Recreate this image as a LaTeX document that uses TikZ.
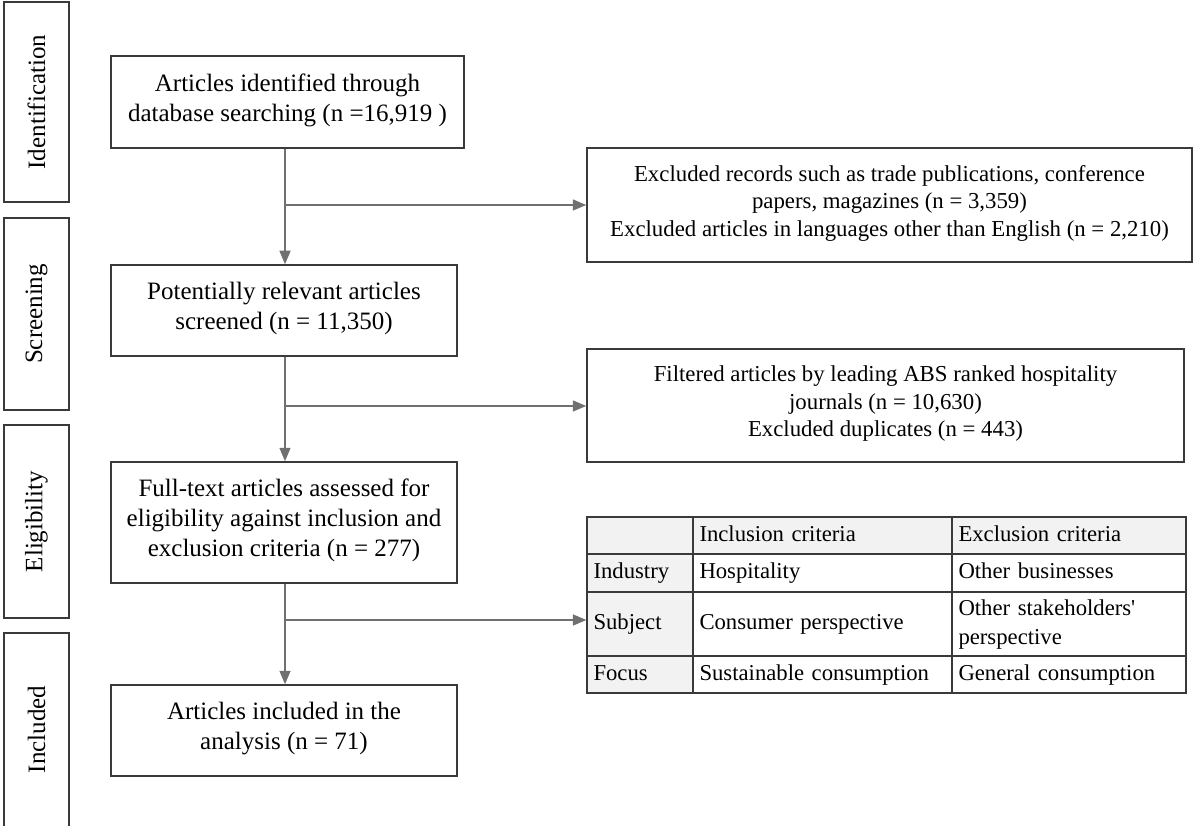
\documentclass[tikz,border=0pt]{standalone}
\usepackage{fontspec}
\setmainfont{Liberation Serif}[Ligatures=TeXOff]
\usetikzlibrary{arrows.meta}
\definecolor{boxline}{HTML}{3A3A3A}
\definecolor{arrowline}{HTML}{707070}
\definecolor{hdrfill}{HTML}{F2F2F2}
\begin{document}
\begin{tikzpicture}[x=1pt,y=-1pt,
  box/.style={draw=boxline, line width=1.5pt, inner sep=0pt, align=center,
    font=\fontsize{25}{30}\selectfont, execute at begin node=\strut},
  rbox/.style={draw=boxline, line width=1.5pt, inner sep=0pt, align=center,
    font=\fontsize{22.8}{27.5}\selectfont, execute at begin node=\strut},
  side/.style={draw=boxline, line width=1.5pt, inner sep=0pt,
    minimum width=65pt, font=\fontsize{25}{30}\selectfont},
  cell/.style={draw=boxline, line width=1.2pt, inner xsep=6.5pt, inner ysep=0pt,
    align=left, font=\fontsize{22.7}{29}\selectfont,
    execute at begin node=\strut, execute at end node=\strut},
  hcell/.style={cell, fill=hdrfill},
  conn/.style={draw=arrowline, line width=1.5pt},
  arr/.style={conn, -{Triangle[length=13.5pt,width=11pt]}}]
\useasboundingbox (0,0) rectangle (1194,826);
\begin{scope}
\clip (0,0) rectangle (1194,826);
% side labels
\node[side, minimum height=200pt] (sid) at (36.5,102) {\rotatebox{90}{Identification}};
\node[side, minimum height=192pt] (sscr) at (36.5,314) {\rotatebox{90}{Screening}};
\node[side, minimum height=193pt] (selg) at (36.5,521.5) {\rotatebox{90}{Eligibility}};
\node[side, minimum height=207pt] (sinc) at (36.5,736.5) {};
\node[font=\fontsize{25}{30}\selectfont] (sinctext) at (36.5,729.5) {\rotatebox{90}{Included}};
\end{scope}
% main boxes
\node[box, minimum width=353pt, minimum height=92pt] (b1) at (287.5,102)
  {Articles identified through\\database searching (n =16,919 )};
\node[box, minimum width=346pt, minimum height=91pt] (b2) at (284,310.5)
  {Potentially relevant articles\\screened (n = 11,350)};
\node[box, minimum width=346pt, minimum height=121pt] (b3) at (284,522.5)
  {Full-text articles assessed for\\eligibility against inclusion and\\exclusion criteria (n = 277)};
\node[box, minimum width=346pt, minimum height=91pt] (b4) at (284,730.5)
  {Articles included in the\\analysis (n = 71)};
% right boxes
\node[rbox, minimum width=605pt, minimum height=114pt] (r1) at (889.5,205)
  {Excluded records such as trade publications, conference\\papers, magazines (n = 3,359)\\Excluded articles in languages other than English (n = 2,210)};
\node[rbox, minimum width=597pt, minimum height=113pt] (r2) at (885.5,405.5)
  {Filtered articles by leading ABS ranked hospitality\\journals (n = 10,630)\\Excluded duplicates (n = 443)};
% table
\node[hcell, text width=93pt, minimum height=37pt] (t00) at (640,535.5) {};
\node[hcell, text width=246pt, minimum height=37pt] (t01) at (822.5,535.5) {Inclusion criteria};
\node[hcell, text width=221pt, minimum height=37pt] (t02) at (1069,535.5) {Exclusion criteria};
\node[hcell, text width=93pt, minimum height=38pt] (t10) at (640,573) {Industry};
\node[cell, text width=246pt, minimum height=38pt] (t11) at (822.5,573) {Hospitality};
\node[cell, text width=221pt, minimum height=38pt] (t12) at (1069,573) {Other businesses};
\node[hcell, text width=93pt, minimum height=64pt] (t20) at (640,624) {Subject};
\node[cell, text width=246pt, minimum height=64pt] (t21) at (822.5,624) {Consumer perspective};
\node[cell, text width=221pt, minimum height=64pt] (t22) at (1069,624) {Other stakeholders'\\perspective};
\node[hcell, text width=93pt, minimum height=37pt] (t30) at (640,674.5) {Focus};
\node[cell, text width=246pt, minimum height=37pt] (t31) at (822.5,674.5) {Sustainable consumption};
\node[cell, text width=221pt, minimum height=37pt] (t32) at (1069,674.5) {General consumption};
% connectors
\coordinate (j1) at (285,205);
\coordinate (j2) at (285,406);
\coordinate (j3) at (285,620);
\draw[conn] (b1.south -| j1) -- (j1);
\draw[arr] (j1) -- (b2.north -| j1);
\draw[arr] (j1) -- (r1.west |- j1);
\draw[conn] (b2.south -| j2) -- (j2);
\draw[arr] (j2) -- (b3.north -| j2);
\draw[arr] (j2) -- (r2.west |- j2);
\draw[conn] (b3.south -| j3) -- (j3);
\draw[arr] (j3) -- (b4.north -| j3);
\draw[arr] (j3) -- (t20.west |- j3);
\end{tikzpicture}
\end{document}
